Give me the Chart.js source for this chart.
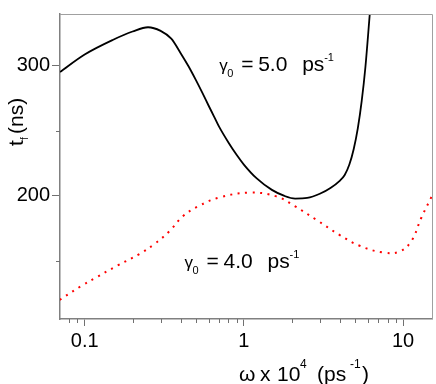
<!DOCTYPE html>
<html>
<head>
<meta charset="utf-8">
<script src="https://cdn.jsdelivr.net/npm/chart.js@4.4.1/dist/chart.umd.min.js"></script>
<style>
html,body{margin:0;padding:0;background:#fff;}
#wrap{width:436px;height:384px;position:relative;}
</style>
</head>
<body>
<div id="wrap"><canvas id="c" width="436" height="384"></canvas></div>
<script>
// ---- data ----
const omegaBlack = [0.07, 0.1, 0.15, 0.2, 0.25, 0.3, 0.35, 0.4, 0.45, 0.5, 0.55, 0.6, 0.65, 0.7, 0.8, 0.9, 1.0, 1.2, 1.5, 1.8, 2.1, 2.5, 3.0, 3.5, 4.0, 4.3, 4.6, 4.9, 5.2, 5.5, 5.8, 6.18];
const tfGamma50 = [295.3, 308.8, 320.0, 326.5, 329.8, 327.0, 321.0, 310.0, 299.5, 289.0, 279.0, 269.5, 261.0, 253.0, 241.0, 231.5, 224.0, 213.5, 204.5, 199.8, 197.8, 198.3, 201.5, 206.0, 211.5, 216.0, 224.0, 236.0, 252.0, 273.0, 299.0, 340.0];
const omegaRed = [0.0697, 0.0747, 0.0949, 0.118, 0.161, 0.221, 0.274, 0.341, 0.413, 0.514, 0.703, 1.086, 1.6, 2.085, 2.85, 4.0, 5.34, 7.48, 9.53, 11.3, 13.0, 15.1];
const tfGamma40 = [119.7, 122.2, 130.3, 137.0, 146.2, 155.1, 162.7, 172.7, 184.1, 191.7, 198.6, 202.4, 199.5, 192.0, 181.5, 169.7, 161.4, 156.3, 157.0, 165.2, 182.8, 199.2];
const xMajorTicks = [0.1, 1, 10];
const xMinorTicks = [0.08, 0.09, 0.2, 0.3, 0.4, 0.5, 0.6, 0.7, 0.8, 0.9, 2, 3, 4, 5, 6, 7, 8, 9];
const yMajorTicks = [200, 300];
const yMinorTicks = [150, 250];

const FONT = "'Liberation Sans', Arial, sans-serif";
const toPts = (xs, ys) => xs.map((x, i) => ({x: x, y: ys[i]}));

const decor = {
  id: 'decor',
  afterDraw(chart) {
    const ctx = chart.ctx;
    const a = chart.chartArea;
    const xs = chart.scales.x, ys = chart.scales.y;
    ctx.save();
    // frame top/right
    ctx.strokeStyle = '#a0a0a0';
    ctx.lineWidth = 1;
    ctx.beginPath();
    ctx.moveTo(a.left, a.top + 0.5); ctx.lineTo(a.right + 0.5, a.top + 0.5); ctx.lineTo(a.right + 0.5, a.bottom);
    ctx.stroke();
    // minor ticks
    ctx.strokeStyle = '#707070';
    ctx.lineWidth = 1;
    ctx.beginPath();
    xMinorTicks.forEach(v => {
      const p = Math.round(xs.getPixelForValue(v)) + 0.5;
      ctx.moveTo(p, a.bottom); ctx.lineTo(p, a.bottom + 4);
    });
    yMinorTicks.forEach(v => {
      const p = Math.round(ys.getPixelForValue(v)) + 0.5;
      ctx.moveTo(a.left, p); ctx.lineTo(a.left - 4, p);
    });
    ctx.stroke();

    ctx.fillStyle = '#000';
    ctx.textBaseline = 'alphabetic';
    ctx.textAlign = 'left';
    const put = (t, x, y, size) => { ctx.font = size + 'px ' + FONT; ctx.fillText(t, x, y); };
    function gammaLabel(x0, base, val) {
      put('\u03b3', x0, base, 17);
      put('0', x0 + 8, base + 6, 11);
      put('=', x0 + 22, base, 21);
      put(val, x0 + 39, base, 21);
      put('ps', x0 + 83, base, 21);
      put('-1', x0 + 105, base - 10, 11);
    }
    gammaLabel(xs.getPixelForValue(0.70), ys.getPixelForValue(296), '5.0');
    gammaLabel(xs.getPixelForValue(0.424), ys.getPixelForValue(144.5), '4.0');

    // x axis title
    const xb = 381;
    put('\u03c9', 239, xb, 21);
    put('x', 260, xb, 21);
    put('10', 277, xb, 21);
    put('4', 300, xb - 13, 12);
    put('(ps', 317, xb, 21);
    put('-1', 350, xb - 13, 12);
    put(')', 362, xb, 21);

    // y axis title (rotated)
    ctx.translate(23, 146);
    ctx.rotate(-Math.PI / 2);
    put('t', 0, 0, 21);
    put('f', 6, 5, 10);
    put('(ns)', 12, 0, 21);
    ctx.restore();
  }
};

new Chart(document.getElementById('c'), {
  type: 'scatter',
  data: {
    datasets: [
      {
        label: 'gamma0 = 5.0 ps-1',
        data: toPts(omegaBlack, tfGamma50),
        showLine: true,
        borderColor: '#000',
        borderWidth: 1.8,
        pointRadius: 0,
        cubicInterpolationMode: 'monotone'
      },
      {
        label: 'gamma0 = 4.0 ps-1',
        data: toPts(omegaRed, tfGamma40),
        showLine: true,
        borderColor: '#ff0000',
        borderWidth: 2,
        borderDash: [2, 5.5],
        pointRadius: 0,
        tension: 0.4
      }
    ]
  },
  options: {
    responsive: false,
    animation: false,
    devicePixelRatio: 1,
    layout: {padding: {left: 0, top: 9, right: 4, bottom: 0}},
    plugins: {legend: {display: false}, tooltip: {enabled: false}, title: {display: false}},
    scales: {
      x: {
        type: 'logarithmic',
        position: 'bottom',
        min: 0.07,
        max: 15.2,
        afterBuildTicks: s => { s.ticks = xMajorTicks.map(v => ({value: v})); },
        afterFit: s => { s.height = 65; },
        ticks: {
          autoSkip: false,
          maxRotation: 0,
          padding: 3,
          color: '#000',
          font: {family: FONT, size: 20},
          callback: v => String(v)
        },
        grid: {drawOnChartArea: false, drawTicks: true, tickLength: 7, tickColor: '#707070', tickWidth: 1},
        border: {display: true, color: '#808080', width: 1.5}
      },
      y: {
        type: 'linear',
        position: 'left',
        min: 105,
        max: 340,
        afterBuildTicks: s => { s.ticks = yMajorTicks.map(v => ({value: v})); },
        afterFit: s => { s.width = 60; },
        ticks: {
          autoSkip: false,
          padding: 2,
          color: '#000',
          font: {family: FONT, size: 20},
          callback: v => String(v)
        },
        grid: {drawOnChartArea: false, drawTicks: true, tickLength: 8, tickColor: '#707070', tickWidth: 1},
        border: {display: true, color: '#808080', width: 1.5}
      }
    }
  },
  plugins: [decor]
});
</script>
</body>
</html>
